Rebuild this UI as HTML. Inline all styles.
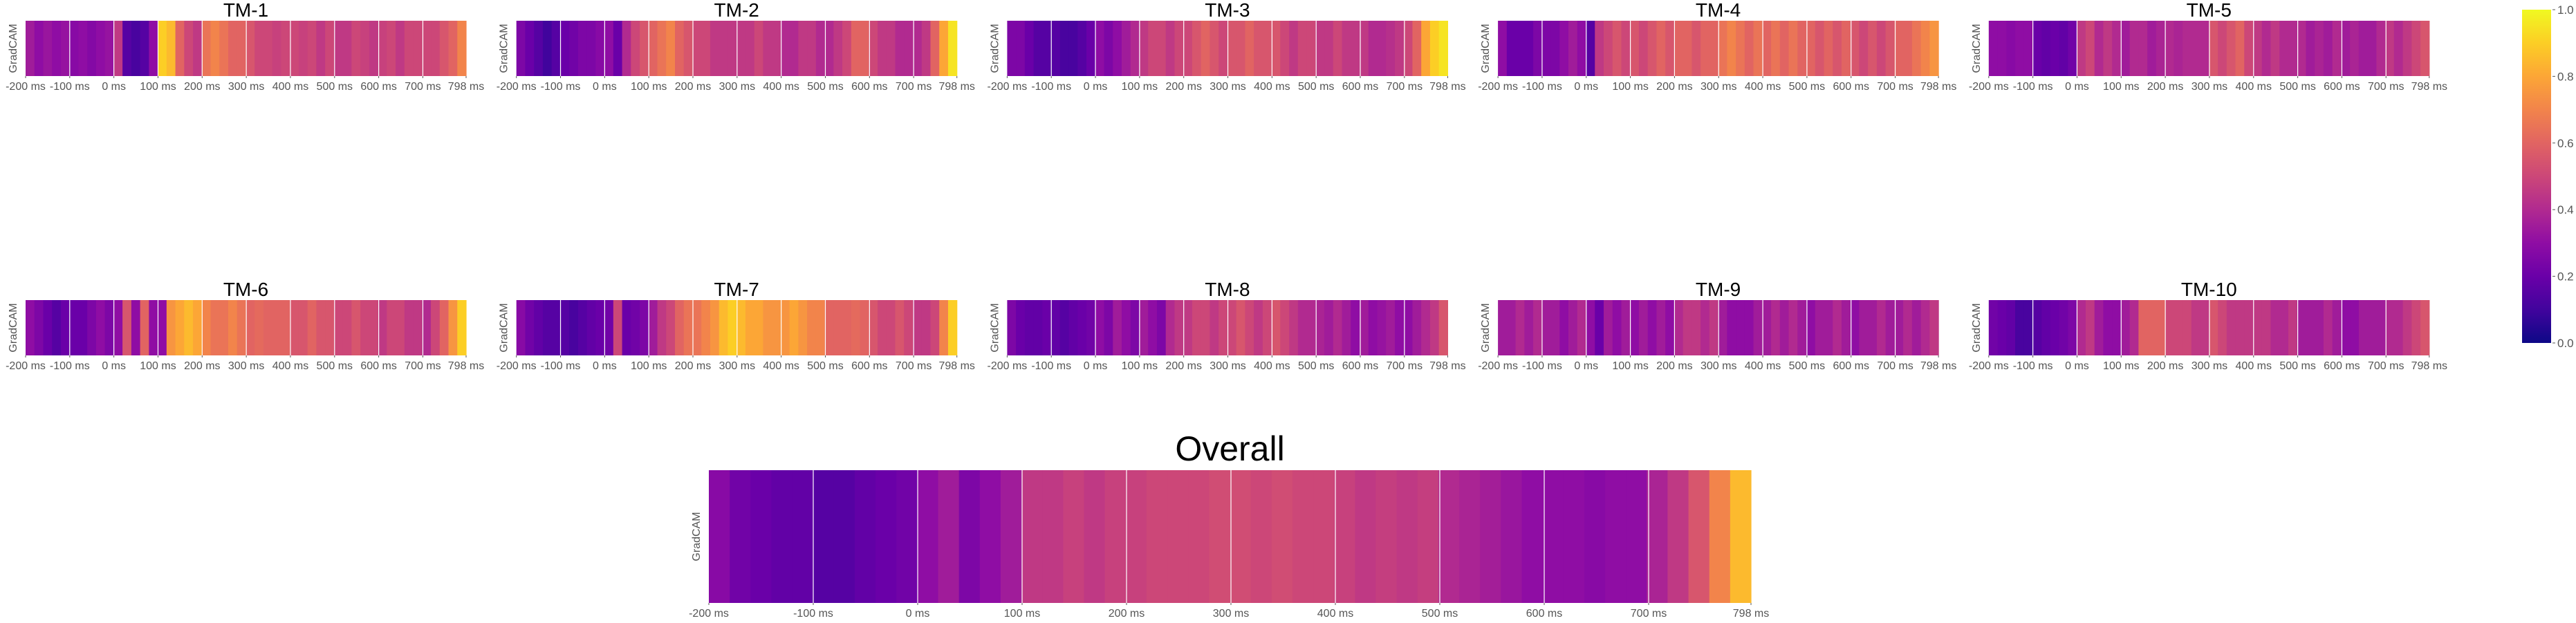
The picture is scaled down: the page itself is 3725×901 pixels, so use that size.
<!DOCTYPE html>
<html><head><meta charset="utf-8"><style>
body{margin:0;background:#fff;}
svg{display:block;font-family:"Liberation Sans",sans-serif;}
</style></head><body>
<svg id="chart" width="3725" height="901" viewBox="0 0 3725 901" xmlns="http://www.w3.org/2000/svg"></svg>
<script>
const tickLabels = ["-200 ms","-100 ms","0 ms","100 ms","200 ms","300 ms","400 ms","500 ms","600 ms","700 ms","798 ms"];
const tickTimes = [-200,-100,0,100,200,300,400,500,600,700,798];
const panelNames = ["TM-1","TM-2","TM-3","TM-4","TM-5","TM-6","TM-7","TM-8","TM-9","TM-10"];
const tm1 = [0.35,0.3,0.33,0.3,0.32, 0.28,0.3,0.27,0.3,0.32, 0.45,0.15,0.12,0.15,0.3, 0.9,0.85,0.6,0.5,0.45, 0.65,0.7,0.65,0.6,0.6, 0.55,0.5,0.5,0.48,0.5, 0.5,0.48,0.5,0.45,0.5, 0.45,0.45,0.5,0.48,0.45, 0.48,0.5,0.45,0.5,0.5, 0.5,0.5,0.55,0.6,0.7];
const tm2 = [0.25,0.2,0.15,0.1,0.15, 0.2,0.22,0.25,0.25,0.28, 0.3,0.2,0.4,0.5,0.55, 0.6,0.65,0.7,0.6,0.55, 0.5,0.5,0.45,0.45,0.45, 0.45,0.45,0.5,0.45,0.45, 0.4,0.4,0.45,0.45,0.4, 0.4,0.45,0.5,0.6,0.6, 0.5,0.45,0.45,0.4,0.4, 0.4,0.45,0.6,0.8,0.95];
const tm3 = [0.25,0.25,0.2,0.15,0.15, 0.15,0.12,0.12,0.15,0.2, 0.3,0.25,0.3,0.35,0.4, 0.45,0.5,0.5,0.45,0.5, 0.5,0.55,0.6,0.55,0.5, 0.55,0.55,0.6,0.55,0.55, 0.55,0.5,0.45,0.5,0.5, 0.45,0.45,0.5,0.45,0.45, 0.45,0.4,0.4,0.42,0.45, 0.5,0.6,0.8,0.9,0.95];
const tm4 = [0.3,0.2,0.2,0.2,0.25, 0.25,0.25,0.3,0.35,0.3, 0.15,0.45,0.5,0.55,0.5, 0.55,0.5,0.55,0.6,0.55, 0.6,0.6,0.55,0.6,0.6, 0.65,0.7,0.65,0.6,0.65, 0.6,0.65,0.6,0.65,0.6, 0.6,0.55,0.6,0.55,0.6, 0.55,0.5,0.55,0.5,0.55, 0.6,0.6,0.65,0.7,0.75];
const tm5 = [0.3,0.3,0.28,0.3,0.3, 0.2,0.18,0.2,0.18,0.22, 0.45,0.5,0.4,0.45,0.4, 0.35,0.4,0.4,0.35,0.38, 0.4,0.38,0.4,0.4,0.4, 0.55,0.5,0.55,0.6,0.5, 0.45,0.4,0.45,0.4,0.4, 0.4,0.35,0.38,0.35,0.4, 0.35,0.38,0.35,0.35,0.4, 0.45,0.4,0.45,0.5,0.55];
const tm6 = [0.3,0.25,0.2,0.15,0.2, 0.2,0.2,0.25,0.3,0.25, 0.3,0.55,0.3,0.6,0.3, 0.3,0.75,0.8,0.85,0.8, 0.7,0.65,0.65,0.7,0.65, 0.6,0.62,0.6,0.6,0.6, 0.55,0.55,0.6,0.55,0.55, 0.5,0.5,0.55,0.5,0.5, 0.45,0.5,0.5,0.45,0.45, 0.4,0.5,0.6,0.75,0.9];
const tm7 = [0.28,0.22,0.18,0.15,0.15, 0.15,0.12,0.15,0.18,0.2, 0.22,0.5,0.2,0.22,0.25, 0.35,0.45,0.5,0.6,0.65, 0.65,0.7,0.75,0.85,0.9, 0.85,0.8,0.8,0.75,0.75, 0.75,0.8,0.75,0.7,0.7, 0.6,0.6,0.6,0.62,0.6, 0.55,0.5,0.5,0.55,0.5, 0.45,0.45,0.5,0.7,0.9];
const tm8 = [0.25,0.2,0.18,0.18,0.2, 0.18,0.15,0.18,0.2,0.22, 0.3,0.25,0.35,0.3,0.25, 0.35,0.3,0.25,0.4,0.45, 0.45,0.5,0.5,0.45,0.5, 0.5,0.55,0.5,0.45,0.5, 0.55,0.5,0.45,0.4,0.4, 0.38,0.35,0.4,0.35,0.3, 0.35,0.3,0.32,0.35,0.3, 0.3,0.35,0.4,0.45,0.55];
const tm9 = [0.35,0.35,0.4,0.35,0.4, 0.35,0.35,0.3,0.35,0.4, 0.3,0.2,0.35,0.3,0.35, 0.3,0.35,0.3,0.35,0.3, 0.4,0.45,0.45,0.4,0.45, 0.35,0.3,0.3,0.3,0.35, 0.35,0.4,0.35,0.4,0.35, 0.3,0.35,0.35,0.4,0.35, 0.3,0.35,0.35,0.4,0.35, 0.35,0.4,0.35,0.4,0.45];
const tm10 = [0.22,0.2,0.18,0.12,0.12, 0.15,0.18,0.2,0.22,0.25, 0.4,0.45,0.35,0.3,0.3, 0.35,0.4,0.6,0.6,0.6, 0.5,0.5,0.5,0.45,0.45, 0.55,0.5,0.45,0.45,0.45, 0.45,0.45,0.4,0.4,0.45, 0.35,0.35,0.35,0.4,0.35, 0.3,0.3,0.35,0.35,0.35, 0.4,0.4,0.45,0.5,0.55];
const overall = [0.28,0.22,0.2,0.18,0.18, 0.15,0.15,0.18,0.2,0.22, 0.3,0.35,0.25,0.3,0.35, 0.45,0.45,0.48,0.45,0.48, 0.48,0.5,0.5,0.5,0.52, 0.52,0.5,0.52,0.5,0.5, 0.48,0.45,0.47,0.45,0.47, 0.4,0.38,0.36,0.33,0.3, 0.3,0.3,0.28,0.3,0.3, 0.38,0.45,0.55,0.7,0.85];
const colorbarTicks = [0,0.2,0.4,0.6,0.8,1.0];

const plasma = ["#0d0887","#41049d","#6a00a8","#8f0da4","#b12a90","#cc4778","#e16462","#f2844b","#fca636","#fcce25","#f0f921"];
function hex(h){return [parseInt(h.substr(1,2),16),parseInt(h.substr(3,2),16),parseInt(h.substr(5,2),16)];}
function cmap(v){
  v=Math.max(0,Math.min(1,v));const p=v*10;const i=Math.min(9,Math.floor(p));const f=p-i;
  const a=hex(plasma[i]),b=hex(plasma[i+1]);
  return "rgb("+a.map((c,k)=>Math.round(c+(b[k]-c)*f)).join(",")+")";
}
const NS="http://www.w3.org/2000/svg";
const svg=document.getElementById("chart");
function el(tag,attrs,parent){const e=document.createElementNS(NS,tag);for(const k in attrs)e.setAttribute(k,attrs[k]);(parent||svg).appendChild(e);return e;}

function drawPanel(name,values,x0,y0,w,h,titleY,titleSize,labelX,slug){
  const g=el("g",{});
  
  
  const xScale=t=>x0+(t+200)/998*w;
  const binMs=1000/values.length;
  values.forEach((v,i)=>{
    const xa=x0+(i*binMs)/1000*w, xb=x0+((i+1)*binMs)/1000*w;
    const r=el("rect",{x:xa,y:y0,width:xb-xa+0.6,height:h,fill:cmap(v)},g);
    
    
  });
  tickTimes.forEach((t,i)=>{
    const x=xScale(t);
    if(i>0&&i<tickTimes.length-1){
      const gl=el("line",{x1:x,x2:x,y1:y0,y2:y0+h,stroke:"#fff","stroke-width":1.2},g);
      
      
    }
    const tk=el("line",{x1:x,x2:x,y1:y0+h,y2:y0+h+3,stroke:"#555","stroke-width":1},g);
    
    
    const tl=el("text",{x:x,y:y0+h+20,"text-anchor":"middle","font-size":16,fill:"#555"},g);
    tl.textContent=tickLabels[i];
    
    
  });
  const yl=el("text",{x:0,y:0,"text-anchor":"middle","font-size":16,fill:"#555",transform:"translate("+labelX+","+(y0+h/2)+") rotate(-90)"},g);
  yl.textContent="GradCAM";
  
  
  const tt=el("text",{x:x0+w/2,y:titleY,"text-anchor":"middle","font-size":titleSize,fill:"#000"},g);
  tt.textContent=name;
  
  
}
const series=[tm1,tm2,tm3,tm4,tm5,tm6,tm7,tm8,tm9,tm10];
series.forEach((vals,i)=>{
  const col=i%5,row=Math.floor(i/5);
  const x0=37+col*709.7;
  const y0=row===0?30:434;
  drawPanel(panelNames[i],vals,x0,y0,637,80,y0-6,28,x0-13,"tm-"+(i+1));
});
drawPanel("Overall",overall,1025,680,1507,192,666,50,1012,"overall");

// colorbar
const cb=el("g",{});


const defs=el("defs",{},cb);
const lg=el("linearGradient",{id:"cbg",x1:0,y1:1,x2:0,y2:0},defs);
plasma.forEach((c,i)=>el("stop",{offset:(i/10),"stop-color":c},lg));
const cbTop=14,cbBot=496;
el("rect",{x:3647,y:cbTop,width:42,height:cbBot-cbTop,fill:"url(#cbg)"},cb);
colorbarTicks.forEach(v=>{
  const y=cbBot-v*(cbBot-cbTop);
  const t=el("line",{x1:3691,x2:3695,y1:y,y2:y,stroke:"#555"},cb);
  
  
  const l=el("text",{x:3698,y:y+6,"font-size":17,fill:"#555"},cb);
  l.textContent=v.toFixed(1);
  
  
});
</script>
</body></html>
